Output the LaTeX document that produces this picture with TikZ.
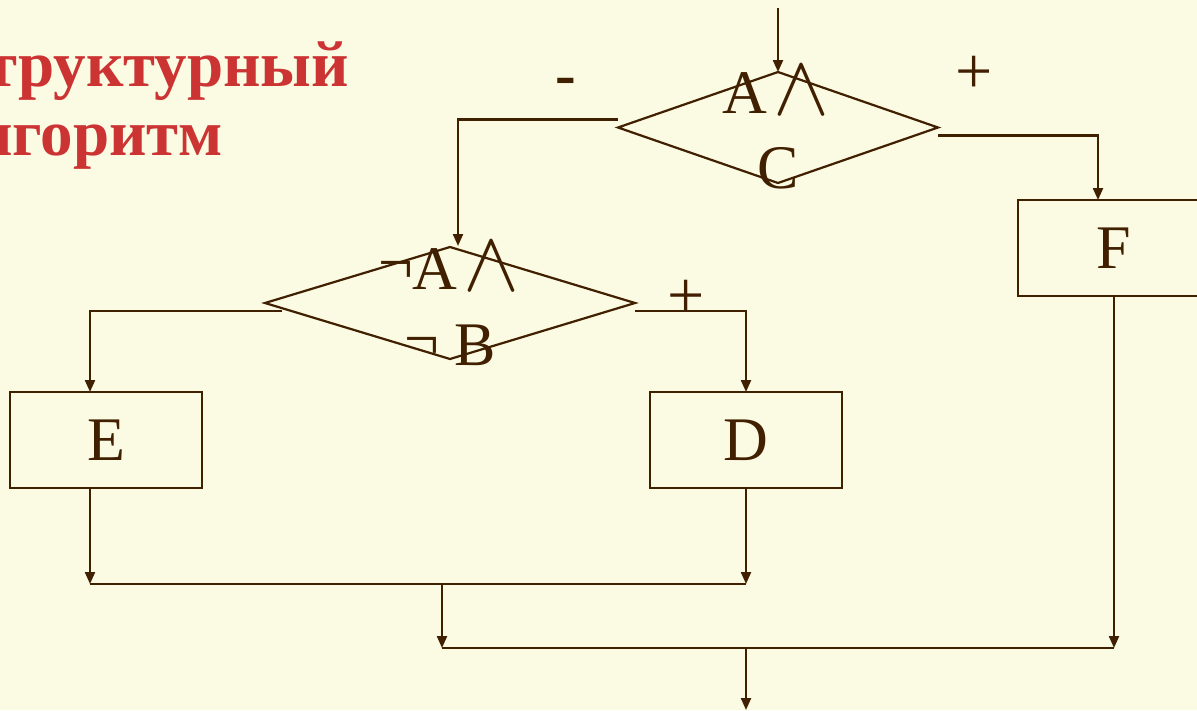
\documentclass[tikz,border=0pt]{standalone}
\usepackage{fontspec}
\setmainfont{Liberation Serif}
\usepackage{graphicx}
\usetikzlibrary{shapes.geometric,arrows.meta}
\definecolor{bg}{RGB}{251,250,227}
\definecolor{ink}{RGB}{64,32,0}
\definecolor{ttl}{RGB}{204,51,51}
\newcommand{\wedgeglyph}{\scalebox{8.4}[8.6]{$\wedge$}}
\newcommand{\negsign}{\raisebox{6pt}{¬}}
\begin{document}
\begin{tikzpicture}[x=1pt,y=-1pt,
  line width=2.2pt, draw=ink,
  arr/.style={-{Triangle[length=12pt,width=10pt]}},
  dia/.style={diamond, draw=ink, inner sep=0pt, outer sep=0pt},
  blk/.style={rectangle, draw=ink, minimum width=192pt, minimum height=96pt, inner sep=0pt, outer sep=0pt, text=ink, font=\fontsize{62}{62}\selectfont},
  lbl/.style={inner sep=0pt, outer sep=0pt, text=ink, font=\fontsize{62}{62}\selectfont},
  wdg/.style={inner sep=0pt, outer sep=0pt, text=ink},
  ttlst/.style={inner sep=0pt, outer sep=0pt, text=ttl, font=\fontsize{65}{65}\selectfont\bfseries}
]
\fill[bg] (0,0) rectangle (1197,710);
\useasboundingbox (0,0) rectangle (1197,710);

% title
\node[ttlst, anchor=base east] (t1) at (349,86) {Структурный};
\node[ttlst, anchor=base east] (t2) at (223,155) {алгоритм};

% diamonds
\node[dia, minimum width=320pt, minimum height=111pt] (d1) at (778,127.5) {};
\node[dia, minimum width=370pt, minimum height=112pt] (d2) at (450,303) {};

% diamond texts
\node[lbl, anchor=base west] (a1) at (722,113) {A};
\node[wdg] (w1) at (801,91) {\wedgeglyph};
\node[lbl, anchor=base west] (c1) at (757,188) {C};
\node[lbl, anchor=base west] (a2) at (378,289) {\negsign A};
\node[wdg] (w2) at (491,267) {\wedgeglyph};
\node[lbl, anchor=base west] (b2) at (404,365) {\negsign{} B};

% branch labels
\node[inner sep=0pt, text=ink, font=\fontsize{62}{62}\selectfont\bfseries, anchor=base] (mn) at (566,95) {-};
\node[lbl, font=\fontsize{66}{66}\selectfont, anchor=base] (p1) at (974,93) {+};
\node[lbl, font=\fontsize{66}{66}\selectfont, anchor=base] (p2) at (686,317) {+};

% boxes
\node[blk] (E) at (106,440) {E};
\node[blk] (D) at (746,440) {D};
\node[blk] (F) at (1114,248) {F};

% junction coordinates
\coordinate (top) at (778,8);
\coordinate (m1w) at (90,584);
\coordinate (m1c) at (442,584);
\coordinate (m1e) at (746,584);
\coordinate (m2w) at (442,648);
\coordinate (m2c) at (746,648);
\coordinate (m2e) at (1114,648);
\coordinate (bot) at (746,710);

% connectors
\draw[arr] (top) -- (d1.north);
\draw[arr] ([yshift=8pt]d1.west) -| ([xshift=8pt,yshift=1pt]d2.north);
\draw[arr] ([yshift=-8pt]d1.east) -| ([xshift=-16pt]F.north);
\draw[arr] ([shift={(17pt,-8pt)}]d2.west) -| ([xshift=-16pt]E.north);
\draw[arr] ([yshift=-8pt]d2.east) -| (D.north);
\draw[arr] ([xshift=-16pt]E.south) -- (m1w);
\draw[arr] (D.south) -- (m1e);
\draw (m1w) -- (m1e);
\draw[arr] (m1c) -- (m2w);
\draw[arr] (F.south) -- (m2e);
\draw (m2w) -- (m2e);
\draw[arr] (m2c) -- (bot);
\end{tikzpicture}
\end{document}
